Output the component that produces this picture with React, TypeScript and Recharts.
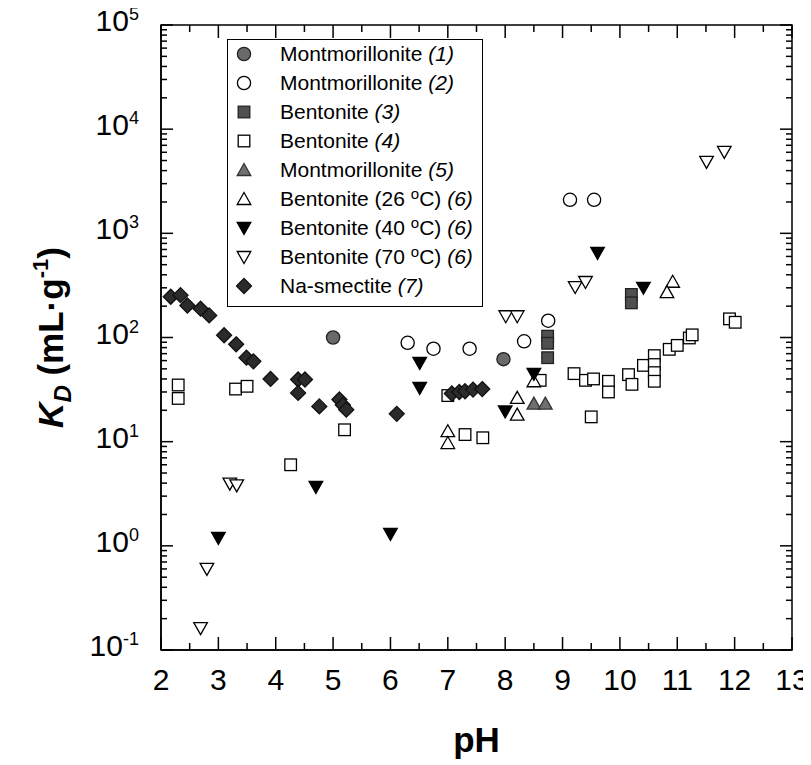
import React from 'react';
import { ScatterChart, Scatter, XAxis, YAxis, ReferenceArea, Legend } from 'recharts';

// ---------- data (pH, K_D in mL/g) ----------
const montmorillonite1 = [
  { x: 5.0, y: 100 }, { x: 7.97, y: 62 },
];
const montmorillonite2 = [
  { x: 6.3, y: 89 }, { x: 6.75, y: 78 }, { x: 7.38, y: 78 }, { x: 8.33, y: 92 },
  { x: 8.75, y: 145 }, { x: 9.13, y: 2100 }, { x: 9.55, y: 2100 },
];
const bentonite3 = [
  { x: 8.74, y: 103 }, { x: 8.74, y: 88 }, { x: 8.74, y: 64 },
  { x: 10.2, y: 259 }, { x: 10.2, y: 215 },
];
const bentonite4 = [
  { x: 2.3, y: 35 }, { x: 2.3, y: 26 }, { x: 3.3, y: 32 }, { x: 3.5, y: 34 },
  { x: 4.26, y: 6.0 }, { x: 5.2, y: 13 }, { x: 7.0, y: 27.7 }, { x: 7.3, y: 11.7 },
  { x: 7.61, y: 10.9 }, { x: 8.61, y: 38.8 }, { x: 9.2, y: 45 }, { x: 9.4, y: 38.8 },
  { x: 9.54, y: 40 }, { x: 9.5, y: 17.3 }, { x: 9.8, y: 38 }, { x: 9.8, y: 30 },
  { x: 10.15, y: 44 }, { x: 10.21, y: 35.5 }, { x: 10.41, y: 54 }, { x: 10.6, y: 67 },
  { x: 10.6, y: 55 }, { x: 10.6, y: 46 }, { x: 10.6, y: 38 }, { x: 10.86, y: 77 },
  { x: 11.0, y: 84 }, { x: 11.21, y: 99 }, { x: 11.26, y: 106 }, { x: 11.91, y: 151 },
  { x: 12.01, y: 140 },
];
const montmorillonite5 = [
  { x: 8.5, y: 23.2 }, { x: 8.7, y: 23.2 },
];
const bentonite26 = [
  { x: 7.0, y: 12.6 }, { x: 7.0, y: 9.7 }, { x: 8.21, y: 26.3 }, { x: 8.21, y: 18.2 },
  { x: 8.5, y: 38 }, { x: 10.92, y: 343 }, { x: 10.82, y: 273 },
];
const bentonite40 = [
  { x: 3.0, y: 1.19 }, { x: 4.7, y: 3.67 }, { x: 6.0, y: 1.3 }, { x: 6.51, y: 57 },
  { x: 6.51, y: 32.8 }, { x: 8.0, y: 19.5 }, { x: 8.5, y: 44.8 }, { x: 9.61, y: 650 },
  { x: 10.41, y: 300 },
];
const bentonite70 = [
  { x: 2.69, y: 0.162 }, { x: 2.8, y: 0.6 }, { x: 3.2, y: 3.95 }, { x: 3.32, y: 3.8 },
  { x: 8.01, y: 160 }, { x: 8.21, y: 160 }, { x: 9.22, y: 305 }, { x: 9.4, y: 341 },
  { x: 11.51, y: 4850 }, { x: 11.82, y: 6050 },
];
const naSmectite7 = [
  { x: 2.17, y: 246 }, { x: 2.34, y: 255 }, { x: 2.46, y: 203 }, { x: 2.69, y: 189 },
  { x: 2.84, y: 163 }, { x: 3.1, y: 105 }, { x: 3.31, y: 86 }, { x: 3.49, y: 64 },
  { x: 3.61, y: 59 }, { x: 3.91, y: 40 }, { x: 4.39, y: 39.5 }, { x: 4.51, y: 39.5 },
  { x: 4.39, y: 29.4 }, { x: 4.76, y: 21.8 }, { x: 5.11, y: 25.4 }, { x: 5.17, y: 22.5 },
  { x: 5.23, y: 20.3 }, { x: 6.11, y: 18.5 }, { x: 7.07, y: 29 }, { x: 7.2, y: 30 },
  { x: 7.3, y: 30.5 }, { x: 7.44, y: 31.6 }, { x: 7.6, y: 32 },
];

// ---------- axis ticks ----------
const X_MAJOR = [2, 3, 4, 5, 6, 7, 8, 9, 10, 11, 12, 13];
const X_TICKS = X_MAJOR.flatMap((v, i) => (i < X_MAJOR.length - 1 ? [v, v + 0.5] : [v]));
const Y_DECADES = [-1, 0, 1, 2, 3, 4, 5];
const Y_TICKS = Y_DECADES.flatMap((d, i) =>
  i < Y_DECADES.length - 1
    ? [1, 2, 3, 4, 5, 6, 7, 8, 9].map((m) => m * Math.pow(10, d))
    : [Math.pow(10, d)]
);

// ---------- layout ----------
const WIDTH = 803;
const HEIGHT = 757;
const MARGIN = { top: 17, right: 19, bottom: 0, left: 0 };
const Y_AXIS_W = 153;
const X_AXIS_H = 115;
const PLOT_TOP = MARGIN.top;
const PLOT_RIGHT = WIDTH - MARGIN.right;
const FONT = "'Liberation Sans', Arial, Helvetica, sans-serif";

type Kind = 'circle' | 'square' | 'triUp' | 'triDown' | 'diamond';

function Marker({ kind, cx, cy, fill, stroke }: { kind: Kind; cx: number; cy: number; fill: string; stroke: string }) {
  const sw = 1.3;
  if (kind === 'circle') return <circle cx={cx} cy={cy} r={6.6} fill={fill} stroke={stroke} strokeWidth={sw} />;
  if (kind === 'square')
    return <rect x={cx - 5.8} y={cy - 5.8} width={11.6} height={11.6} fill={fill} stroke={stroke} strokeWidth={sw} />;
  if (kind === 'triUp')
    return <polygon points={`${cx},${cy - 6.5} ${cx + 6.8},${cy + 5.5} ${cx - 6.8},${cy + 5.5}`} fill={fill} stroke={stroke} strokeWidth={sw} />;
  if (kind === 'triDown')
    return <polygon points={`${cx - 6.8},${cy - 5.5} ${cx + 6.8},${cy - 5.5} ${cx},${cy + 6.5}`} fill={fill} stroke={stroke} strokeWidth={sw} />;
  return <polygon points={`${cx},${cy - 7.5} ${cx + 7.5},${cy} ${cx},${cy + 7.5} ${cx - 7.5},${cy}`} fill={fill} stroke={stroke} strokeWidth={sw} />;
}

const SERIES = [
  { key: 'm1', name: 'Montmorillonite ', temp: '', ref: '(1)', data: montmorillonite1, kind: 'circle' as Kind, fill: '#6a6a6a', stroke: '#222' },
  { key: 'm2', name: 'Montmorillonite ', temp: '', ref: '(2)', data: montmorillonite2, kind: 'circle' as Kind, fill: '#fff', stroke: '#000' },
  { key: 'b3', name: 'Bentonite ', temp: '', ref: '(3)', data: bentonite3, kind: 'square' as Kind, fill: '#505050', stroke: '#222' },
  { key: 'b4', name: 'Bentonite ', temp: '', ref: '(4)', data: bentonite4, kind: 'square' as Kind, fill: '#fff', stroke: '#000' },
  { key: 'm5', name: 'Montmorillonite ', temp: '', ref: '(5)', data: montmorillonite5, kind: 'triUp' as Kind, fill: '#707070', stroke: '#333' },
  { key: 'b26', name: 'Bentonite ', temp: '26', ref: '(6)', data: bentonite26, kind: 'triUp' as Kind, fill: '#fff', stroke: '#000' },
  { key: 'b40', name: 'Bentonite ', temp: '40', ref: '(6)', data: bentonite40, kind: 'triDown' as Kind, fill: '#000', stroke: '#000' },
  { key: 'b70', name: 'Bentonite ', temp: '70', ref: '(6)', data: bentonite70, kind: 'triDown' as Kind, fill: '#fff', stroke: '#000' },
  { key: 'na7', name: 'Na-smectite ', temp: '', ref: '(7)', data: naSmectite7, kind: 'diamond' as Kind, fill: '#2b2b2b', stroke: '#111' },
];

function XTick(props: any) {
  const { x, y, payload } = props;
  const v = payload.value as number;
  const major = Math.abs(v - Math.round(v)) < 1e-6;
  const len = major ? 13 : 7;
  return (
    <g>
      <line x1={x} x2={x} y1={y} y2={y - len} stroke="#000" strokeWidth={1.5} />
      <line x1={x} x2={x} y1={PLOT_TOP} y2={PLOT_TOP + len} stroke="#000" strokeWidth={1.5} />
      {major && (
        <text x={x} y={y + 40} textAnchor="middle" fontSize={30} fontFamily={FONT} fill="#000">
          {v}
        </text>
      )}
    </g>
  );
}

function YTick(props: any) {
  const { x, y, payload } = props;
  const v = payload.value as number;
  const lg = Math.log10(v);
  const major = Math.abs(lg - Math.round(lg)) < 1e-6;
  const len = major ? 12 : 6;
  return (
    <g>
      <line x1={x} x2={x + len} y1={y} y2={y} stroke="#000" strokeWidth={1.5} />
      <line x1={PLOT_RIGHT} x2={PLOT_RIGHT - len} y1={y} y2={y} stroke="#000" strokeWidth={1.5} />
      {major && (
        <text x={x - 22} y={y + 6} textAnchor="end" fontSize={30} fontFamily={FONT} fill="#000">
          10
          <tspan fontSize={18} dy={-11}>{Math.round(lg)}</tspan>
        </text>
      )}
    </g>
  );
}

function YTitle(props: any) {
  const vb = props.viewBox || { x: 0, y: 0, width: 0, height: 0 };
  const cx = vb.x + 55;
  const cy = vb.y + vb.height / 2;
  return (
    <text
      x={cx}
      y={cy}
      transform={`rotate(-90 ${cx} ${cy})`}
      textAnchor="middle"
      fontSize={35}
      fontWeight="bold"
      fontFamily={FONT}
      fill="#000"
    >
      <tspan fontStyle="italic">K</tspan>
      <tspan fontStyle="italic" fontSize={24} dy={8}>D</tspan>
      <tspan dy={-8}> (mL·g</tspan>
      <tspan fontSize={22} dy={-15}>-1</tspan>
      <tspan dy={15}>)</tspan>
    </text>
  );
}

function XTitle(props: any) {
  const vb = props.viewBox || { x: 0, y: 0, width: 0, height: 0 };
  return (
    <text x={vb.x + vb.width / 2} y={vb.y + 102} textAnchor="middle" fontSize={35} fontWeight="bold" fontFamily={FONT} fill="#000">
      pH
    </text>
  );
}

function LegendBox() {
  return (
    <div
      style={{
        width: 256,
        height: 268,
        border: '1.3px solid #000',
        background: '#fff',
        boxSizing: 'border-box',
        fontFamily: FONT,
        fontSize: 21,
        color: '#000',
        paddingTop: 0,
      }}
    >
      {SERIES.map((s) => (
        <div key={s.key} style={{ height: 29, position: 'relative' }}>
          <svg width={20} height={20} style={{ position: 'absolute', left: 6, top: 4 }}>
            <Marker kind={s.kind} cx={10} cy={10} fill={s.fill} stroke={s.stroke} />
          </svg>
          <span style={{ position: 'absolute', left: 52, top: 0, lineHeight: '28px', whiteSpace: 'nowrap' }}>
            {s.name}
            {s.temp ? (
              <>
                ({s.temp} <span style={{ fontSize: 15, position: 'relative', top: -7 }}>o</span>C){' '}
              </>
            ) : null}
            <i>{s.ref}</i>
          </span>
        </div>
      ))}
    </div>
  );
}

export default function App() {
  return (
    <div>
      <style>{`.recharts-surface{overflow:visible}`}</style>
      <ScatterChart width={WIDTH} height={HEIGHT} margin={MARGIN}>
        <XAxis
          type="number"
          dataKey="x"
          domain={[2, 13]}
          ticks={X_TICKS}
          interval={0}
          allowDataOverflow
          tickLine={false}
          tickSize={0}
          tickMargin={0}
          tick={(p: any) => <XTick {...p} />}
          axisLine={{ stroke: '#000', strokeWidth: 1.5 }}
          height={X_AXIS_H}
          label={<XTitle />}
        />
        <YAxis
          type="number"
          dataKey="y"
          scale="log"
          domain={[0.1, 100000]}
          ticks={Y_TICKS}
          interval={0}
          allowDataOverflow
          tickLine={false}
          tickSize={0}
          tickMargin={0}
          tick={(p: any) => <YTick {...p} />}
          axisLine={{ stroke: '#000', strokeWidth: 1.5 }}
          width={Y_AXIS_W}
          label={<YTitle />}
        />
        <ReferenceArea x1={2} x2={13} y1={0.1} y2={100000} fill="none" stroke="#000" strokeWidth={1.5} ifOverflow="visible" />
        {SERIES.map((s) => (
          <Scatter
            key={s.key}
            name={s.key}
            data={s.data}
            isAnimationActive={false}
            shape={(p: any) => <Marker kind={s.kind} cx={p.cx} cy={p.cy} fill={s.fill} stroke={s.stroke} />}
          />
        ))}
        <Legend
          layout="vertical"
          align="center"
          verticalAlign="middle"
          wrapperStyle={{ position: 'absolute', left: 219, top: 31, width: 256, height: 268 }}
          content={() => <LegendBox />}
        />
      </ScatterChart>
    </div>
  );
}
